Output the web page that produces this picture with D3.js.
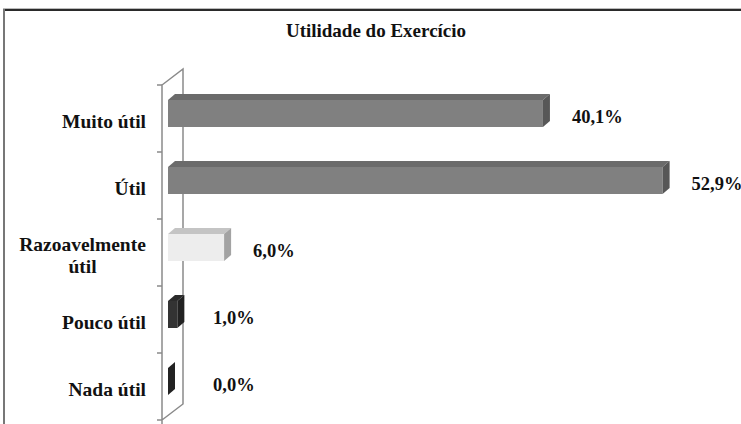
<!DOCTYPE html>
<html><head><meta charset="utf-8">
<script src="https://cdn.jsdelivr.net/npm/d3@7"></script>
<style>body{margin:0;background:#fff}svg{display:block}text{font-family:"Liberation Serif",serif;font-weight:bold;fill:#111}</style>
</head><body>
<svg id="c" width="741" height="424"></svg>
<script>
const title = "Utilidade do Exercício";
const categories = ["Muito útil", "Útil", "Razoavelmente útil", "Pouco útil", "Nada útil"];
const categoryLines = [["Muito útil"], ["Útil"], ["Razoavelmente", "útil"], ["Pouco útil"], ["Nada útil"]];
const values = [40.1, 52.9, 6.0, 1.0, 0.0];
const valueLabels = ["40,1%", "52,9%", "6,0%", "1,0%", "0,0%"];
const barShade = ["mid", "mid", "light", "dark", "dark"];

const palette = {
  mid:   {front: "#808080", top: "#6b6b6b", side: "#575757"},
  light: {front: "#ededed", top: "#c4c4c4", side: "#a3a3a3"},
  dark:  {front: "#333333", top: "#2b2b2b", side: "#222222"}
};

const svg = d3.select("#c");
const W = 741, H = 424;

// frame
svg.append("line").attr("x1", 3).attr("x2", W).attr("y1", 8.5).attr("y2", 8.5).attr("stroke", "#bbb").attr("stroke-width", 1);
svg.append("line").attr("x1", 3).attr("x2", W).attr("y1", 10).attr("y2", 10).attr("stroke", "#2a2a2a").attr("stroke-width", 2);
svg.append("line").attr("x1", 4).attr("x2", 4).attr("y1", 9).attr("y2", H).attr("stroke", "#777").attr("stroke-width", 2);

const x = d3.scaleLinear().domain([0, 60]).range([168, 168 + 561]);
const y = d3.scaleBand().domain(categories).range([85, 420]).padding(0);
const depth = {dx: 7, dy: -6};
const wall = {dx: 21, dy: -16};
const barOff = 15, barH = 27;

// title
svg.append("text").attr("x", 376).attr("y", 30).attr("dy", "0.35em").attr("text-anchor", "middle")
  .style("font-size", "19px").text(title);

// 3D wall axis
const ax = x(0) - 6;
const g = svg.append("g").attr("stroke", "#8a8a8a").attr("stroke-width", 1.5).attr("fill", "none");
const y0 = y.range()[0], y1 = y.range()[1];
g.append("path").attr("d", `M${ax},${H} L${ax},${y0} L${ax + wall.dx},${y0 + wall.dy} L${ax + wall.dx},${y1 + wall.dy} L${ax},${y1}`);
const tickYs = categories.map(c => y(c)).concat([y1]);
g.selectAll("line.t").data(tickYs).join("line").attr("class", "t")
  .attr("x1", ax - 5).attr("x2", ax).attr("y1", d => d).attr("y2", d => d);

// bars
categories.forEach((c, i) => {
  const p = palette[barShade[i]];
  const xa = x(0), xb = x(values[i]);
  const ya = y(c) + barOff, yb = ya + barH;
  const bg = svg.append("g");
  if (xb - xa > 0.5) {
    bg.append("path").attr("fill", p.top)
      .attr("d", `M${xa},${ya} L${xa + depth.dx},${ya + depth.dy} L${xb + depth.dx},${ya + depth.dy} L${xb},${ya} Z`);
    bg.append("rect").attr("x", xa).attr("y", ya).attr("width", xb - xa).attr("height", barH).attr("fill", p.front);
  }
  bg.append("path").attr("fill", p.side)
    .attr("d", `M${xb},${ya} L${xb + depth.dx},${ya + depth.dy} L${xb + depth.dx},${yb + depth.dy} L${xb},${yb} Z`);
  // value label
  const lx = Math.max(xb + depth.dx + 22, 213);
  svg.append("text").attr("x", lx).attr("y", y(c) + y.bandwidth() / 2 - 2).attr("dy", "0.35em")
    .style("font-size", "18.5px").text(valueLabels[i]);
  // category label
  const lines = categoryLines[i];
  const t = svg.append("text").attr("text-anchor", lines.length > 1 ? "middle" : "end")
    .style("font-size", "19.5px");
  const cx = lines.length > 1 ? 82.5 : 146;
  const cy = y(c) + y.bandwidth() / 2 + 2.5;
  lines.forEach((ln, k) => {
    t.append("tspan").attr("x", cx).attr("y", cy + (k - (lines.length - 1) / 2) * 22).attr("dy", "0.35em").text(ln);
  });
});
</script>
</body></html>
